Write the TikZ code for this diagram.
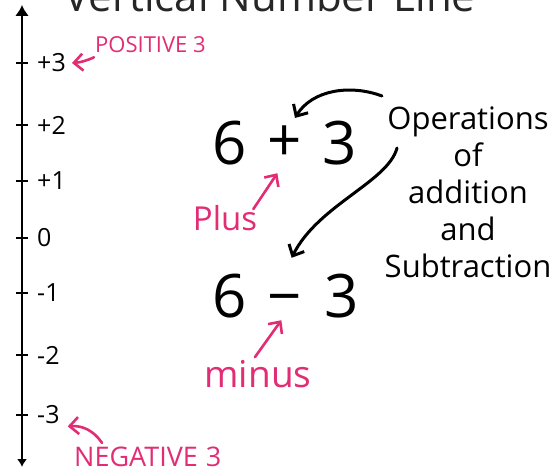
\documentclass[tikz,border=0pt]{standalone}
\usepackage{fontspec}
\setmainfont{Open Sans}
\usetikzlibrary{positioning,arrows.meta}
\definecolor{marker}{RGB}{226,44,116}

\begin{document}
\begin{tikzpicture}[x=1pt,y=-1pt,>={Straight Barb[length=9pt,width=17pt]},
  pen/.style={line width=3pt,line cap=round},
  pinkpen/.style={line width=2.6pt,line cap=round,marker},
  numlabel/.style={anchor=west,inner sep=0pt,font=\fontsize{25}{25}\selectfont},
  bignum/.style={inner sep=0pt,font=\fontsize{60}{60}\selectfont},
  pinknote/.style={inner sep=0pt,text=marker},
  tickmark/.style={line width=2.6pt}]
  \useasboundingbox (0,0) rectangle (559,473);
  % title, cut by the top edge
  \node[anchor=base,inner sep=0pt,font=\fontsize{42}{42}\selectfont,text=black!85] (title) at (270,12) {Vertical Number Line};
  % number line
  \draw[line width=2.8pt,{Latex[length=11pt,width=14pt]}-{Latex[length=8pt,width=10pt]}] (22,5) -- (22,467);
  \foreach \v/\y/\nm in {+3/63/p3,+2/125/p2,+1/181/p1,0/238/zero,-1/293/m1,-2/355/m2,-3/415/m3} {
    \draw[tickmark] (16,\y) -- (28,\y);
    \node[numlabel] (\nm) at (37,\y) {\v};
  }
  \node[pinknote,font=\fontsize{22}{22}\selectfont,anchor=west] (pos) at (95,45) {POSITIVE 3};
  \draw[pinkpen,->] ([xshift=-1pt,yshift=-4pt]pos.south west) to[bend left=10] ([xshift=6pt]p3.east);
  \node[pinknote,font=\fontsize{27}{27}\selectfont,anchor=west] (neg) at (74,457) {NEGATIVE\hspace{8pt}3};
  \draw[pinkpen,->] ([xshift=28pt,yshift=4pt]neg.north west) to[bend right=30] ([xshift=8pt,yshift=-2pt]m3.south east);
  % the two sums
  \node[bignum] (sixA) at (230,143) {6};
  \node[bignum] (plus) at (285,144) {+};
  \node[bignum] (threeA) at (340,143) {3};
  \node[bignum] (sixB) at (230,296) {6};
  \node[bignum] (minus) at (285,306) {−};
  \node[bignum] (threeB) at (342,296) {3};
  \node[pinknote,font=\fontsize{33}{33}\selectfont] (plusword) at (225,218) {Plus};
  \draw[pinkpen,->] ([xshift=-4pt,yshift=-4pt]plusword.north east) -- ([xshift=30pt,yshift=-8pt]sixA.south east);
  \node[pinknote,font=\fontsize{37}{37}\selectfont] (minusword) at (258,374) {minus};
  \draw[pinkpen,->] ([xshift=-3pt,yshift=3pt]minusword.north) -- ([xshift=34pt,yshift=-2pt]sixB.south east);
  % note on the right
  \node[align=center,inner sep=0pt,font=\fontsize{31}{37}\selectfont] (ops) at (468,192) {Operations\\of\\addition\\and\\Subtraction};
  \coordinate (opsA) at (382,96);
  \coordinate (opsB) at (397,148);
  \draw[pen,->] (opsA) .. controls (350,84) and (312,90) .. ([xshift=10pt,yshift=8pt]plus.north);
  \draw[pen,->] (opsB) .. controls (388,182) and (318,205) .. ([xshift=-33pt,yshift=16pt]threeB.north west);
\end{tikzpicture}
\end{document}
